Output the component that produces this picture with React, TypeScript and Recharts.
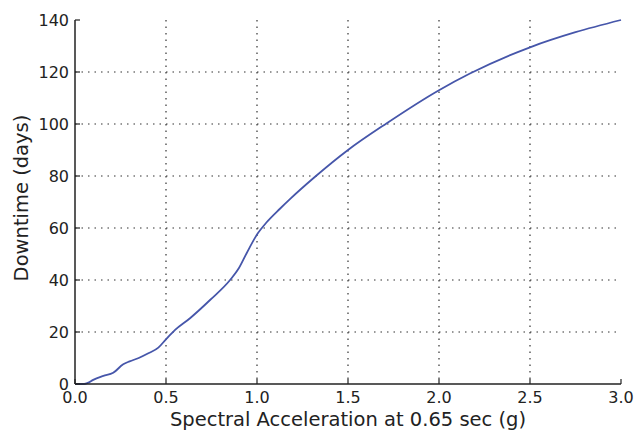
import { LineChart, Line, XAxis, YAxis, CartesianGrid, Label } from "recharts";

const accel = [
  0, 0.05, 0.07, 0.1, 0.156, 0.21, 0.265, 0.3, 0.35, 0.403, 0.458, 0.5, 0.55,
  0.632, 0.742, 0.852, 0.9, 0.943, 1.0, 1.053, 1.126, 1.181, 1.319, 1.5, 1.713,
  2.0, 2.17, 2.5, 2.75, 3.0,
];
const downtime = [
  0, 0, 0.4, 1.6, 3.1, 4.3, 7.6, 8.7, 10, 11.8, 14.0, 17.2, 20.8, 25.3, 32.3,
  40, 44.5, 50.3, 57.5, 62.2, 67.4, 71.1, 79.7, 90, 100.3, 113, 119.4, 129.5,
  135.3, 140,
];

const xTicks = [0, 0.5, 1.0, 1.5, 2.0, 2.5, 3.0];
const yTicks = [0, 20, 40, 60, 80, 100, 120, 140];

const data = accel.map((a, i) => ({ a, d: downtime[i] }));

const FONT = "'DejaVu Sans', Verdana, sans-serif";
const INK = "#222";

const BottomTick = (props: any) => {
  const { x, y, payload } = props;
  return (
    <g>
      <line x1={x} y1={y} x2={x} y2={y - 5} stroke={INK} strokeWidth={1.2} />
      <text x={x} y={y + 19} textAnchor="middle" fontSize={16} fill={INK} fontFamily={FONT}>
        {payload.value.toFixed(1)}
      </text>
    </g>
  );
};

const LeftTick = (props: any) => {
  const { x, y, payload } = props;
  return (
    <g>
      <line x1={x} y1={y} x2={x + 5} y2={y} stroke={INK} strokeWidth={1.2} />
      <text x={x - 6} y={y + 5.5} textAnchor="end" fontSize={16} fill={INK} fontFamily={FONT}>
        {payload.value}
      </text>
    </g>
  );
};

const TopTick = (props: any) => {
  const { x, y } = props;
  return <line x1={x} y1={y} x2={x} y2={y + 5} stroke={INK} strokeWidth={1.2} />;
};

const RightTick = (props: any) => {
  const { x, y } = props;
  return <line x1={x} y1={y} x2={x - 5} y2={y} stroke={INK} strokeWidth={1.2} />;
};

export default function App() {
  return (
    <div style={{ position: "absolute", left: 0, top: 0, background: "#fff" }}>
      <LineChart
        width={635}
        height={433}
        data={data}
        margin={{ top: 20, right: 14, left: 0, bottom: 0 }}
      >
        <CartesianGrid
          stroke="#333"
          strokeDasharray="1.5 5"
          strokeWidth={1.2}
          horizontalValues={[20, 40, 60, 80, 100, 120]}
          verticalValues={[0.5, 1.0, 1.5, 2.0, 2.5]}
        />
        <XAxis
          dataKey="a"
          type="number"
          domain={[0, 3]}
          ticks={xTicks}
          height={49}
          tickSize={0}
          tickMargin={0}
          tickLine={false}
          axisLine={{ stroke: INK, strokeWidth: 1.5 }}
          tick={BottomTick}
          interval={0}
        >
          <Label
            content={() => (
              <text x={348} y={426} textAnchor="middle" fontSize={19.5} fill={INK} fontFamily={FONT}>
                Spectral Acceleration at 0.65 sec (g)
              </text>
            )}
          />
        </XAxis>
        <XAxis
          xAxisId="top"
          orientation="top"
          dataKey="a"
          type="number"
          domain={[0, 3]}
          ticks={xTicks}
          height={0}
          tickSize={0}
          tickMargin={0}
          tickLine={false}
          axisLine={{ stroke: INK, strokeWidth: 1.5 }}
          tick={TopTick}
          interval={0}
        />
        <YAxis
          type="number"
          domain={[0, 140]}
          ticks={yTicks}
          width={75}
          tickSize={0}
          tickMargin={0}
          tickLine={false}
          axisLine={{ stroke: INK, strokeWidth: 1.5 }}
          tick={LeftTick}
          interval={0}
        >
          <Label
            content={() => (
              <text
                x={0}
                y={0}
                transform="translate(28,198) rotate(-90)"
                textAnchor="middle"
                fontSize={19.5}
                fill={INK}
                fontFamily={FONT}
              >
                Downtime (days)
              </text>
            )}
          />
        </YAxis>
        <YAxis
          yAxisId="right"
          orientation="right"
          type="number"
          domain={[0, 140]}
          ticks={yTicks}
          width={0}
          tickSize={0}
          tickMargin={0}
          tickLine={false}
          axisLine={{ stroke: INK, strokeWidth: 1.5 }}
          tick={RightTick}
          interval={0}
        />
        <Line
          type="monotone"
          dataKey="d"
          stroke="#4656aa"
          strokeWidth={1.8}
          dot={false}
          isAnimationActive={false}
        />
      </LineChart>
    </div>
  );
}
